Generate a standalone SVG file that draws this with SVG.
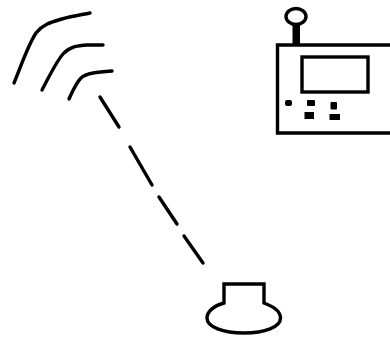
<svg xmlns="http://www.w3.org/2000/svg" width="390" height="338" viewBox="0 0 390 338">
<style>.l{fill:none;stroke:#000;stroke-width:3.400;stroke-linecap:round;stroke-linejoin:round}.m{fill:none;stroke:#000;stroke-width:3.400;stroke-linejoin:miter}.k{fill:#000}</style>
<rect width="390" height="338" fill="#fff"/>
<g id="waves">
<path class="l" d="M14 83C21 66 28 45 36 33C43 24 52 22 62 19C72 16 80 15 90 13"/>
<path class="l" d="M42 90C50 75 56 62 63 54C70 46 78 46 86 45L103 45"/>
<path class="l" d="M69 99C73 90 76 83 81 78C86 73 98 72 112 71"/>
</g>
<g id="device">
<ellipse class="m" cx="296" cy="16.500" rx="10" ry="8"/>
<rect class="k" x="292.500" y="24" width="7.500" height="20"/>
<path class="m" d="M390 45H277.500V133H390"/>
<rect class="m" x="302" y="57" width="66" height="35"/>
<rect class="k" x="285" y="100" width="7" height="6" rx="2"/>
<rect class="k" x="307" y="100" width="8" height="6" rx="1"/>
<rect class="k" x="304.500" y="112" width="9.500" height="7"/>
<rect class="k" x="330.500" y="102" width="6.500" height="7.500" rx="1"/>
<rect class="k" x="329.500" y="114" width="10.500" height="6"/>
</g>
<g id="connectors">
<path class="l" d="M100 97L119 127M130 147L152 185M159 197L177 224M184 236L203 263"/>
</g>
<g id="base">
<path class="m" d="M224 303V284H264V303C275 307 280.500 312 280.500 318C280.500 327 265 333 244 333C223 333 207 327 207 318C207 312 213 306 224 303Z"/>
</g>
</svg>
